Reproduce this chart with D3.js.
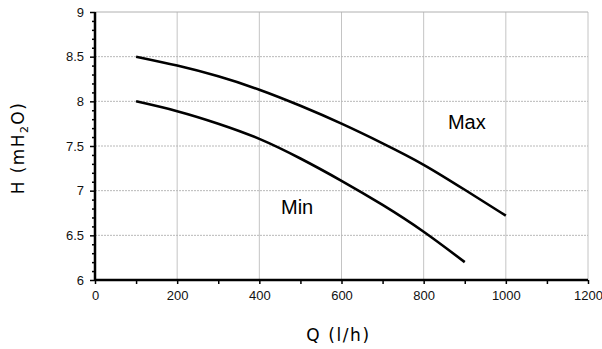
<!DOCTYPE html>
<html>
<head>
<meta charset="utf-8">
<script src="https://cdn.jsdelivr.net/npm/d3@7"></script>
<style>
  body { margin: 0; background: #fff; }
  svg { display: block; }
</style>
</head>
<body>
<svg></svg>
<script>
// flow (l/h) and head (mH2O)
const qMax = [100, 200, 300, 400, 500, 600, 700, 800, 900, 1000];
const hMax = [8.5, 8.4, 8.28, 8.13, 7.95, 7.75, 7.53, 7.29, 7.01, 6.72];
const qMin = [100, 200, 300, 400, 500, 600, 700, 800, 900];
const hMin = [8.0, 7.89, 7.75, 7.58, 7.36, 7.11, 6.84, 6.54, 6.2];
const xTicks = [0, 200, 400, 600, 800, 1000, 1200];
const yTicks = [6, 6.5, 7, 7.5, 8, 8.5, 9];

const svgWidth = 602;
const svgHeight = 349;
const margin = { top: 12, right: 14, bottom: 69, left: 95 },
  width = svgWidth - margin.left - margin.right,
  height = svgHeight - margin.top - margin.bottom;

const svg = d3.select("svg").attr("width", svgWidth).attr("height", svgHeight);
const g = svg.append("g").attr("transform", "translate(" + margin.left + "," + margin.top + ")");

const x = d3.scaleLinear().domain([0, 1200]).range([0, width]);
const y = d3.scaleLinear().domain([6, 9]).range([height, 0]);

// grid
g.selectAll(".vgrid")
  .data(xTicks.slice(1))
  .enter()
  .append("line")
  .attr("x1", (d) => x(d))
  .attr("x2", (d) => x(d))
  .attr("y1", 0)
  .attr("y2", height)
  .attr("stroke", "#c4c4c4")
  .attr("stroke-width", 1);

g.selectAll(".hgrid")
  .data(yTicks.slice(1, -1))
  .enter()
  .append("line")
  .attr("x1", 0)
  .attr("x2", width)
  .attr("y1", (d) => y(d))
  .attr("y2", (d) => y(d))
  .attr("stroke", "#b8b8b8")
  .attr("stroke-width", 1)
  .attr("stroke-dasharray", "2,1");

// top border
g.append("line")
  .attr("x1", 0)
  .attr("x2", width)
  .attr("y1", y(9))
  .attr("y2", y(9))
  .attr("stroke", "#b0b0b0");

// curves
const line = d3
  .line()
  .x((d) => x(d[0]))
  .y((d) => y(d[1]))
  .curve(d3.curveNatural);

g.append("path")
  .datum(d3.zip(qMax, hMax))
  .attr("d", line)
  .attr("fill", "none")
  .attr("stroke", "#000")
  .attr("stroke-width", 2.6);

g.append("path")
  .datum(d3.zip(qMin, hMin))
  .attr("d", line)
  .attr("fill", "none")
  .attr("stroke", "#000")
  .attr("stroke-width", 2.6);

// x axis
const xAxis = g
  .append("g")
  .attr("transform", "translate(0," + height + ")")
  .call(d3.axisBottom(x).tickValues(d3.range(0, 1201, 100)).tickSize(4).tickFormat((d) => (d % 200 == 0 ? d : "")));
xAxis.select(".domain").attr("stroke-width", 2.5).attr("d", "M0,0H" + width);
xAxis.selectAll(".tick line").attr("stroke-width", 1.5);
xAxis
  .selectAll("text")
  .attr("dy", null)
  .attr("y", 20)
  .style("font-family", "Liberation Sans, Arial, sans-serif")
  .style("font-size", "13px")
  .attr("fill", "#111");

// y axis
const yAxis = g
  .append("g")
  .call(d3.axisLeft(y).tickValues(d3.range(60, 91, 1).map((d) => d / 10)).tickSize(3).tickFormat((d) => (Math.round(d * 10) % 5 == 0 ? d : "")));
yAxis.select(".domain").attr("stroke-width", 2.5).attr("d", "M0," + height + "V0");
yAxis.selectAll(".tick line").attr("stroke-width", 1.5).attr("x2", (d) => (Math.round(d * 10) % 5 == 0 ? -5 : -3));
yAxis
  .selectAll("text")
  .attr("x", -11)
  .style("font-family", "Liberation Sans, Arial, sans-serif")
  .style("font-size", "13px")
  .attr("fill", "#111");

// curve labels
g.append("text")
  .attr("x", x(905))
  .attr("y", y(7.69))
  .attr("text-anchor", "middle")
  .style("font-family", "Liberation Sans, Arial, sans-serif")
  .style("font-size", "20px")
  .text("Max");

g.append("text")
  .attr("x", x(492))
  .attr("y", y(6.74))
  .attr("text-anchor", "middle")
  .style("font-family", "Liberation Sans, Arial, sans-serif")
  .style("font-size", "20px")
  .text("Min");

// axis titles
svg
  .append("text")
  .attr("x", margin.left + width / 2 - 3)
  .attr("y", 341)
  .attr("text-anchor", "middle")
  .style("font-family", "DejaVu Sans, sans-serif")
  .style("font-size", "17px")
  .style("letter-spacing", "1.6px")
  .text("Q (l/h)");

const yTitle = svg
  .append("text")
  .attr("transform", "translate(24,148) rotate(-90)")
  .attr("text-anchor", "middle")
  .style("font-family", "DejaVu Sans, sans-serif")
  .style("font-size", "17px")
  .style("letter-spacing", "1.4px");
yTitle.append("tspan").text("H (mH");
yTitle.append("tspan").attr("dy", 4).style("font-size", "11px").text("2");
yTitle.append("tspan").attr("dy", -4).text("O)");
</script>
</body>
</html>
